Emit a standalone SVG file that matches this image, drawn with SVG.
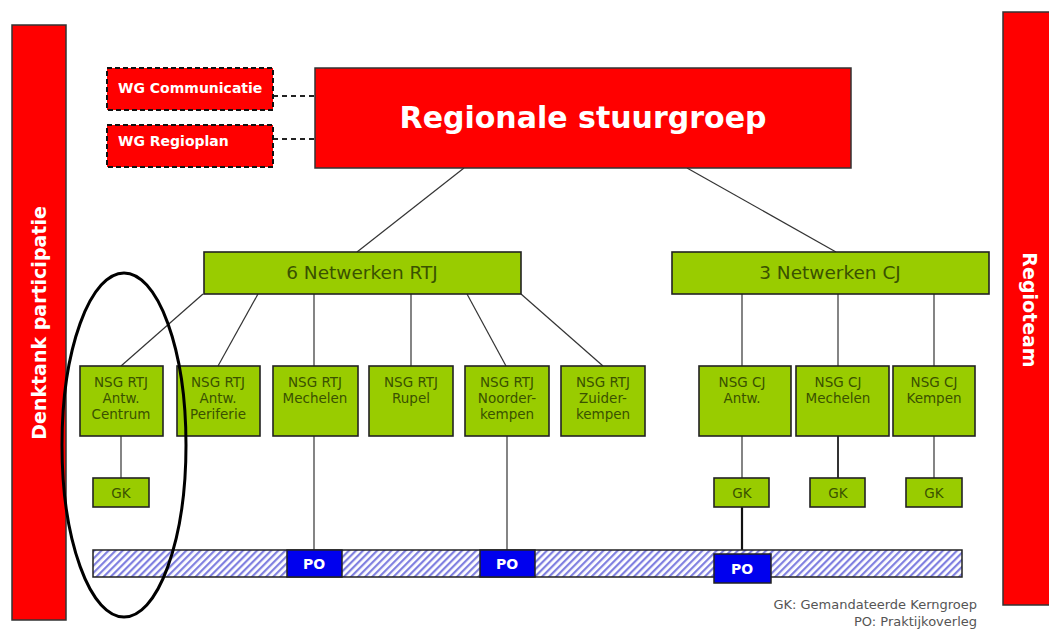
<svg xmlns="http://www.w3.org/2000/svg" width="1049" height="630" viewBox="0 0 1049 630">
<defs>
<pattern id="hatch" patternUnits="userSpaceOnUse" width="5" height="5" patternTransform="rotate(45)">
<rect width="5" height="5" fill="#ffffff"/>
<rect x="0" y="0" width="2.2" height="5" fill="#8080e0"/>
</pattern>
<style>
.red{fill:#ff0000;stroke:#333;stroke-width:1.5}
.wg{fill:#ff0000;stroke:#111;stroke-width:2;stroke-dasharray:5 3}
.grn{fill:#99cc00;stroke:#222;stroke-width:1.6}
.po{fill:#0000ee;stroke:#222;stroke-width:1.5}
.t{font-family:"DejaVu Sans",Verdana,sans-serif;text-anchor:middle}
.wt{fill:#ffffff;font-weight:bold}
.gt{fill:#3a5200;font-size:13.5px}
.ln{stroke:#333;stroke-width:1.2;fill:none}
.dash{stroke:#222;stroke-width:1.8;stroke-dasharray:5 4;fill:none}
</style>
</defs>
<rect width="1049" height="630" fill="#ffffff"/>

<g id="connectors">
<line class="dash" x1="273" y1="96" x2="315" y2="96"/>
<line class="dash" x1="273" y1="139" x2="315" y2="139"/>
<line class="ln" x1="464" y1="168" x2="357" y2="252"/>
<line class="ln" x1="687" y1="168" x2="836" y2="252"/>
<line class="ln" x1="203" y1="294" x2="121" y2="366"/>
<line class="ln" x1="258" y1="294" x2="218" y2="366"/>
<line class="ln" x1="314" y1="294" x2="314" y2="366"/>
<line class="ln" x1="411" y1="294" x2="411" y2="366"/>
<line class="ln" x1="467" y1="294" x2="506" y2="366"/>
<line class="ln" x1="521" y1="294" x2="603" y2="366"/>
<line class="ln" x1="742" y1="294" x2="742" y2="366"/>
<line class="ln" x1="838" y1="294" x2="838" y2="366"/>
<line class="ln" x1="934" y1="294" x2="934" y2="366"/>
<line class="ln" x1="121" y1="436" x2="121" y2="478"/>
<line class="ln" x1="742" y1="436" x2="742" y2="478"/>
<line class="ln" x1="838" y1="436" x2="838" y2="478" style="stroke-width:2"/>
<line class="ln" x1="934" y1="436" x2="934" y2="478"/>
<line class="ln" x1="314" y1="436" x2="314" y2="550"/>
<line class="ln" x1="507" y1="436" x2="507" y2="550"/>
<line class="ln" x1="742" y1="507" x2="742" y2="554" style="stroke-width:2.2;stroke:#111"/>
</g>

<g id="denktank">
<rect class="red" x="12" y="25" width="54" height="595"/>
<text class="t wt" x="0" y="0" font-size="19" transform="translate(46,323) rotate(-90)">Denktank participatie</text>
</g>
<g id="regioteam">
<rect class="red" x="1003" y="12" width="52" height="593"/>
<text class="t wt" x="0" y="0" font-size="19" transform="translate(1023,310) rotate(90)">Regioteam</text>
</g>

<g id="stuurgroep">
<rect class="red" x="315" y="68" width="536" height="100"/>
<text class="t wt" x="583" y="128" font-size="30">Regionale stuurgroep</text>
</g>
<g id="wg-communicatie">
<rect class="wg" x="107" y="68" width="166" height="42"/>
<text class="t wt" x="118" y="93" font-size="14" style="text-anchor:start">WG Communicatie</text>
</g>
<g id="wg-regioplan">
<rect class="wg" x="107" y="125" width="166" height="42"/>
<text class="t wt" x="118" y="146" font-size="14" style="text-anchor:start">WG Regioplan</text>
</g>

<g id="netwerken-rtj">
<rect class="grn" x="204" y="252" width="317" height="42"/>
<text class="t" x="362" y="279" font-size="18.5" fill="#3a5200">6 Netwerken RTJ</text>
</g>
<g id="netwerken-cj">
<rect class="grn" x="672" y="252" width="317" height="42"/>
<text class="t" x="830" y="279" font-size="18.5" fill="#3a5200">3 Netwerken CJ</text>
</g>

<g id="rtj-antw-centrum">
<rect class="grn" x="80" y="366" width="83" height="70"/>
<text class="t gt" x="121" y="387">NSG RTJ</text>
<text class="t gt" x="121" y="403">Antw.</text>
<text class="t gt" x="121" y="419">Centrum</text>
</g>
<g id="rtj-antw-periferie">
<rect class="grn" x="177" y="366" width="83" height="70"/>
<text class="t gt" x="218" y="387">NSG RTJ</text>
<text class="t gt" x="218" y="403">Antw.</text>
<text class="t gt" x="218" y="419">Periferie</text>
</g>
<g id="rtj-mechelen">
<rect class="grn" x="273" y="366" width="85" height="70"/>
<text class="t gt" x="315" y="387">NSG RTJ</text>
<text class="t gt" x="315" y="403">Mechelen</text>
</g>
<g id="rtj-rupel">
<rect class="grn" x="369" y="366" width="84" height="70"/>
<text class="t gt" x="411" y="387">NSG RTJ</text>
<text class="t gt" x="411" y="403">Rupel</text>
</g>
<g id="rtj-noorderkempen">
<rect class="grn" x="465" y="366" width="84" height="70"/>
<text class="t gt" x="507" y="387">NSG RTJ</text>
<text class="t gt" x="507" y="403">Noorder-</text>
<text class="t gt" x="507" y="419">kempen</text>
</g>
<g id="rtj-zuiderkempen">
<rect class="grn" x="561" y="366" width="84" height="70"/>
<text class="t gt" x="603" y="387">NSG RTJ</text>
<text class="t gt" x="603" y="403">Zuider-</text>
<text class="t gt" x="603" y="419">kempen</text>
</g>

<g id="cj-antw">
<rect class="grn" x="699" y="366" width="92" height="70"/>
<text class="t gt" x="742" y="387">NSG CJ</text>
<text class="t gt" x="742" y="403">Antw.</text>
</g>
<g id="cj-mechelen">
<rect class="grn" x="796" y="366" width="93" height="70"/>
<text class="t gt" x="838" y="387">NSG CJ</text>
<text class="t gt" x="838" y="403">Mechelen</text>
</g>
<g id="cj-kempen">
<rect class="grn" x="893" y="366" width="82" height="70"/>
<text class="t gt" x="934" y="387">NSG CJ</text>
<text class="t gt" x="934" y="403">Kempen</text>
</g>

<g id="gk-rtj">
<rect class="grn" x="93" y="478" width="56" height="29"/>
<text class="t gt" x="121" y="498">GK</text>
</g>
<g id="gk-cj-antw">
<rect class="grn" x="714" y="478" width="55" height="29"/>
<text class="t gt" x="742" y="498">GK</text>
</g>
<g id="gk-cj-mechelen">
<rect class="grn" x="810" y="478" width="55" height="29"/>
<text class="t gt" x="838" y="498">GK</text>
</g>
<g id="gk-cj-kempen">
<rect class="grn" x="906" y="478" width="56" height="29"/>
<text class="t gt" x="934" y="498">GK</text>
</g>

<g id="praktijk-bar">
<rect x="93" y="550" width="869" height="27" fill="url(#hatch)" stroke="#222" stroke-width="1.5"/>
</g>
<g id="po-1">
<rect class="po" x="287" y="550" width="55" height="27"/>
<text class="t wt" x="314" y="569" font-size="14">PO</text>
</g>
<g id="po-2">
<rect class="po" x="480" y="550" width="55" height="27"/>
<text class="t wt" x="507" y="569" font-size="14">PO</text>
</g>
<g id="po-3">
<rect class="po" x="714" y="554" width="57" height="29"/>
<text class="t wt" x="742" y="574" font-size="14">PO</text>
</g>

<g id="focus-ellipse">
<ellipse cx="124" cy="445" rx="62" ry="172" fill="none" stroke="#000" stroke-width="3"/>
</g>

<g id="legend">
<text class="t" x="977" y="609" font-size="13" fill="#555" style="text-anchor:end">GK: Gemandateerde Kerngroep</text>
<text class="t" x="977" y="626" font-size="13" fill="#555" style="text-anchor:end">PO: Praktijkoverleg</text>
</g>
</svg>
